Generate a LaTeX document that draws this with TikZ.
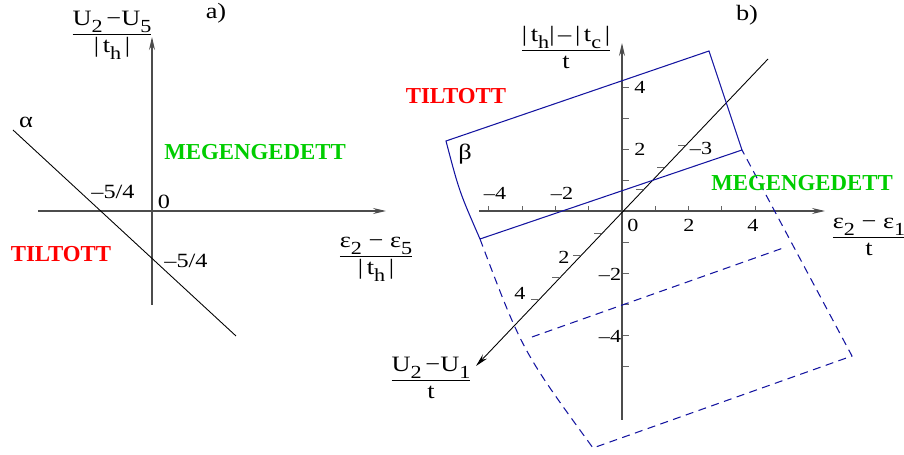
\documentclass[tikz,border=0pt]{standalone}
\usepackage{fontspec}
\setmainfont{Liberation Serif}
\newfontfamily\wideserif{Liberation Serif}[FakeStretch=1.2]
\usetikzlibrary{arrows.meta}
\definecolor{tiltred}{RGB}{255,0,0}
\definecolor{okgreen}{RGB}{0,205,0}
\definecolor{regblue}{RGB}{20,20,160}
\newcommand{\fraclab}[2]{\begin{tabular}{@{}c@{}}#1\\\hline #2\end{tabular}}
\newcommand{\lowr}[1]{\raisebox{-4pt}{\fontsize{10.5}{12}\selectfont #1}}
\tikzset{
  ax/.style={draw=black!70,line width=0.6pt,-{Stealth[length=2.6mm,width=1.2mm,inset=0.9mm]}},
  dline/.style={draw=black,line width=0.5pt},
  tk/.style={draw=black!60,line width=0.5pt},
  blueln/.style={draw=regblue,line width=0.6pt},
  bluedash/.style={draw=regblue,line width=0.6pt,dash pattern=on 1.6mm off 1.1mm},
  axlab/.style={inner sep=0pt,font=\wideserif\fontsize{12.5}{15}\selectfont},
  numlab/.style={inner sep=0pt,font=\wideserif\fontsize{11.5}{13}\selectfont},
  tklab/.style={inner sep=0pt,font=\wideserif\fontsize{10.5}{12}\selectfont},
  badreg/.style={inner sep=0pt,text=tiltred,font=\fontsize{13}{15}\selectfont\bfseries},
  okreg/.style={inner sep=0pt,text=okgreen,font=\fontsize{13}{15}\selectfont\bfseries}
}

\begin{document}
\begin{tikzpicture}[x=0.02cm,y=-0.02cm]
\useasboundingbox (0,0) rectangle (904,455);
% a) panel
\coordinate (xs1) at (38,211);
\coordinate (xe1) at (386,211);
\coordinate (ys1) at (152,305);
\coordinate (ye1) at (152,37);
\coordinate (as) at (13,130);
\coordinate (ae) at (236,336);
\draw[ax] (xs1) -- (xe1);
\draw[ax] (ys1) -- (ye1);
\draw[dline] (as) -- (ae);
\node[axlab] (alpha) at (26,122) {α};
\node[numlab] (zero1) at (164,202) {0};
\node[numlab] (cutx) at (113,192) {–5/4};
\node[numlab] (cuty) at (186,261) {–5/4};
\node[okreg] (meg1) at (255,152) {MEGENGEDETT};
\node[badreg] (til1) at (61,254) {TILTOTT};
\node[axlab] (ylab1) at (112,34) {\fraclab{U\lowr{2}\,−U\lowr{5}}{|\,t\lowr{h}\,|}};
\node[axlab] (xlab1) at (376,256) {\fraclab{ε\lowr{2} − ε\lowr{5}}{|\,t\lowr{h}\,|}};
\node[axlab] (pa) at (216,13) {a)};
% b) panel
\coordinate (xs2) at (479,211);
\coordinate (xe2) at (825,211);
\coordinate (ys2) at (622,420);
\coordinate (ye2) at (622,43);
\coordinate (ds) at (768,59);
\coordinate (de) at (476,366);
\foreach \k in {-4,-3,-2,-1,1,2,3,4}
  \draw[tk] (622+33.3*\k,211) -- ++(0,-5);
\foreach \k in {-5,-4,-3,-2,-1,1,2,3,4}
  \draw[tk] (622,211-31*\k) -- ++(7,0);
\foreach \k in {-3,-2,-1,1,2,3,4}
  \draw[tk] (622-20.9*\k,211+22*\k) -- ++(-7,0);
\draw[ax] (xs2) -- (xe2);
\draw[ax] (ys2) -- (ye2);
\draw[dline,-{Stealth[length=2.6mm,width=1.2mm,inset=0.9mm]}] (ds) -- (de);
% region borders
\coordinate (A) at (446,141);
\coordinate (B) at (709,51);
\coordinate (C) at (742,150);
\coordinate (D) at (480,239);
\coordinate (E) at (593,448);
\coordinate (F) at (852,356);
\coordinate (G) at (532,337);
\coordinate (H) at (786,247);
\draw[blueln] (D) .. controls (459.2,191.3) .. (A) -- (B) -- (C) -- (D);
\draw[bluedash] (D) .. controls (522.4,351.1) .. (E) -- (F) -- (C);
\draw[bluedash] (G) -- (H);
% tick labels
\node[tklab] (xm4) at (495,193) {–4};
\node[tklab] (xm2) at (562,193) {–2};
\node[tklab] (x0) at (633,225) {0};
\node[tklab] (x2) at (689,225) {2};
\node[tklab] (x4) at (753,225) {4};
\node[tklab] (y4) at (640,87) {4};
\node[tklab] (y2) at (640,149) {2};
\node[tklab] (ym2) at (610,274) {–2};
\node[tklab] (ym4) at (610,336) {–4};
\node[tklab] (d2) at (564,257) {2};
\node[tklab] (d4) at (520,293) {4};
\node[tklab] (dm3) at (701,148) {–3};
\node[badreg] (til2) at (456,96) {TILTOTT};
\node[okreg] (meg2) at (802,183) {MEGENGEDETT};
\node[axlab] (beta) at (465,154) {β};
\node[axlab] (pb) at (747,15) {b)};
\node[axlab] (ylab2) at (566,50) {\fraclab{|\,t\lowr{h}|\,–\,|\,t\lowr{c}\,|}{t}};
\node[axlab] (xlab2) at (869,237) {\fraclab{ε\lowr{2} − ε\lowr{1}}{t}};
\node[axlab] (dlab) at (431,380) {\fraclab{U\lowr{2}\,−U\lowr{1}}{t}};
\end{tikzpicture}
\end{document}
